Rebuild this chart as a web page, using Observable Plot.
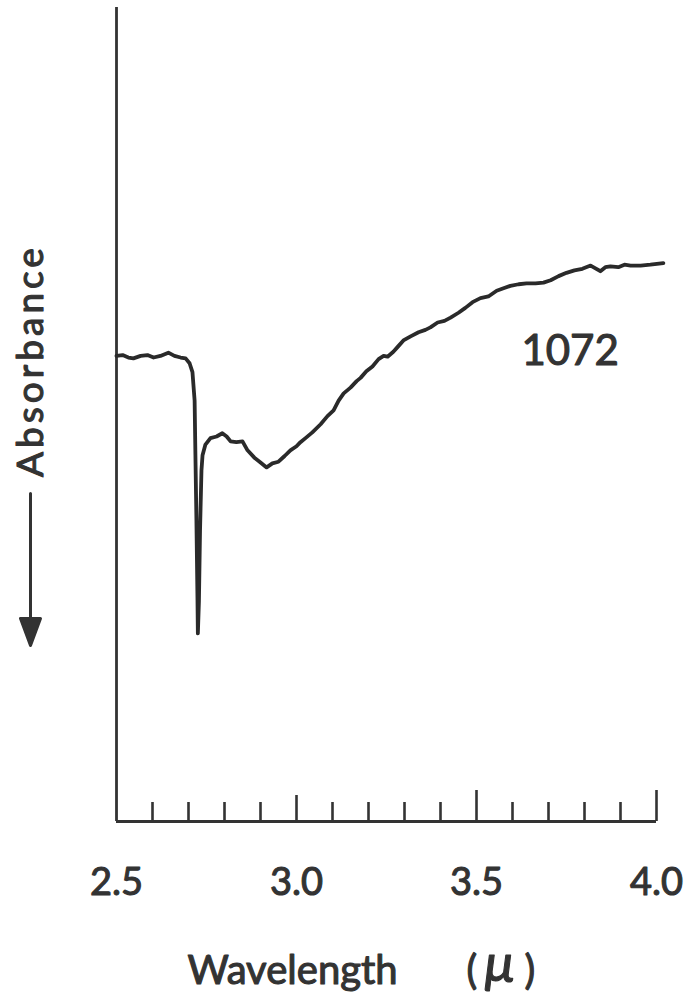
<!DOCTYPE html>
<html>
<head>
<meta charset="utf-8">
<script src="https://cdn.jsdelivr.net/npm/d3@7"></script>
<script src="https://cdn.jsdelivr.net/npm/@observablehq/plot@0.6"></script>
<style>
  body { margin: 0; background: #fff; }
  #chart svg { display: block; }
</style>
</head>
<body>
<div id="chart"></div>
<script>
// Infrared spectrum of sample 1072: wavelength (microns) vs. relative absorbance (arbitrary units)
const wavelength = [
  2.500, 2.517, 2.533, 2.547, 2.567, 2.586, 2.603, 2.622, 2.644, 2.661,
  2.678, 2.692, 2.703, 2.711, 2.717, 2.719, 2.722, 2.725, 2.726, 2.729,
  2.732, 2.736, 2.739, 2.747, 2.761, 2.778, 2.794, 2.806, 2.817, 2.833,
  2.850, 2.864, 2.883, 2.900, 2.917, 2.933, 2.950, 2.967, 2.983, 3.000,
  3.011, 3.025, 3.044, 3.067, 3.086, 3.103, 3.117, 3.131, 3.150, 3.167,
  3.178, 3.194, 3.211, 3.228, 3.242, 3.253, 3.269, 3.283, 3.297, 3.317,
  3.339, 3.358, 3.372, 3.392, 3.411, 3.428, 3.450, 3.469, 3.489, 3.511,
  3.533, 3.556, 3.575, 3.594, 3.617, 3.639, 3.664, 3.686, 3.706, 3.728,
  3.750, 3.772, 3.794, 3.817, 3.833, 3.844, 3.858, 3.872, 3.894, 3.911,
  3.928, 3.956, 3.983, 4.019
];
const absorbance = [
  57.2, 57.3, 57.0, 56.9, 57.2, 57.3, 57.0, 57.2, 57.6, 57.2,
  57.0, 56.9, 56.3, 55.2, 51.7, 45.6, 37.0, 27.1, 23.1, 27.1,
  35.7, 43.1, 45.0, 46.3, 47.1, 47.3, 47.7, 47.3, 46.7, 46.6,
  46.7, 45.6, 44.7, 44.1, 43.5, 44.0, 44.2, 44.9, 45.6, 46.1,
  46.6, 47.1, 47.8, 48.8, 49.8, 50.5, 51.7, 52.6, 53.3, 54.1,
  54.5, 55.3, 55.9, 56.8, 57.2, 57.1, 57.7, 58.4, 59.1, 59.6,
  60.1, 60.4, 60.7, 61.3, 61.5, 61.9, 62.5, 63.1, 63.8, 64.3,
  64.5, 65.2, 65.5, 65.8, 66.0, 66.1, 66.1, 66.2, 66.5, 67.0,
  67.4, 67.7, 67.9, 68.3, 67.9, 67.6, 68.1, 68.2, 68.1, 68.4,
  68.3, 68.3, 68.4, 68.6
];

// Axis ticks (tenths of a micron); the half-micron ticks are drawn taller
const tickLabels = [2.5, 3.0, 3.5, 4.0];
const minorTicks = [2.6, 2.7, 2.8, 2.9, 3.1, 3.2, 3.3, 3.4, 3.6, 3.7, 3.8, 3.9];
const midTicks = [3.0];
const longTicks = [3.5, 4.0];

// Sample label placed beside the curve
const sampleName = ["1072"];
const sampleAt = {x: 3.76, y: 57.7};

const spectrum = wavelength.map((w, i) => ({wavelength: w, absorbance: absorbance[i]}));

const W = 689, H = 1005;
const mL = 116, mR = 33, mT = 7, mB = 184;
const innerH = H - mT - mB;
const ink = "#333";
const font = "Lato, 'Noto Sans', sans-serif";
// a thin same-colour outline gives the lettering a heavier stroke
const heavy = {fill: ink, stroke: ink, strokeWidth: 1.1};

// Downward arrow with a filled head, for the y-axis label
const arrowShape = {
  draw(context, l) {
    const h = 27, w = 10;
    context.moveTo(0, 0);
    context.lineTo(0, -l + h);
    context.moveTo(-w, -l + h);
    context.lineTo(0, -l);
    context.lineTo(w, -l + h);
    context.closePath();
  }
};

const chart = Plot.plot({
  width: W,
  height: H,
  marginLeft: mL,
  marginRight: mR,
  marginTop: mT,
  marginBottom: mB,
  style: {fontFamily: font, color: ink, background: "#fff", overflow: "visible"},
  x: {domain: [2.5, 4.0]},
  y: {domain: [0, 100], axis: null},
  marks: [
    // axis lines
    Plot.ruleX([2.5], {stroke: ink, strokeWidth: 2.8}),
    Plot.ruleY([0], {stroke: ink, strokeWidth: 2.8}),
    // inward tick marks
    Plot.tickX(minorTicks, {x: d => d, stroke: ink, strokeWidth: 2.6, insetTop: innerH - 19}),
    Plot.tickX(midTicks, {x: d => d, stroke: ink, strokeWidth: 2.6, insetTop: innerH - 26}),
    Plot.tickX(longTicks, {x: d => d, stroke: ink, strokeWidth: 2.6, insetTop: innerH - 31}),
    // tick labels
    Plot.axisX({ticks: tickLabels, tickSize: 0, tickPadding: 47, fontSize: 38, tickFormat: d3.format(".1f"), label: null,
      textStroke: ink, textStrokeWidth: 1.1, textStrokeOpacity: 1}),
    // spectrum
    Plot.line(spectrum, {x: "wavelength", y: "absorbance", stroke: "#2a2a2a", strokeWidth: 3.8, strokeLinejoin: "round", strokeLinecap: "round"}),
    // sample label
    Plot.text(sampleName, {x: () => sampleAt.x, y: () => sampleAt.y, text: d => d, fontSize: 42, lineAnchor: "middle", ...heavy}),
    // x-axis title
    Plot.text(["Wavelength"], {frameAnchor: "bottom-left", dx: 71, dy: 162, textAnchor: "start", lineAnchor: "bottom", fontSize: 40, ...heavy}),
    Plot.text(["("], {frameAnchor: "bottom-left", dx: 350, dy: 162, textAnchor: "start", lineAnchor: "bottom", fontSize: 40, ...heavy}),
    Plot.text(["\u03bc"], {frameAnchor: "bottom-left", dx: 368, dy: 160, textAnchor: "start", lineAnchor: "bottom", fontSize: 54, fontStyle: "italic", ...heavy}),
    Plot.text([")"], {frameAnchor: "bottom-left", dx: 408, dy: 162, textAnchor: "start", lineAnchor: "bottom", fontSize: 40, ...heavy}),
    // y-axis title with arrow
    Plot.text(["Absorbance"], {frameAnchor: "left", textAnchor: "middle", dx: -85, dy: -54, rotate: -90, fontSize: 37, ...heavy}),
    Plot.vector([0], {frameAnchor: "left", dx: -86, dy: 79, length: 152, rotate: 180, anchor: "start", shape: arrowShape, stroke: ink, fill: ink, strokeWidth: 3})
  ]
});

// widen the letter spacing of the rotated axis title
d3.select(chart).selectAll("text")
  .filter(function() { return this.textContent === "Absorbance"; })
  .attr("letter-spacing", 4)
  .style("letter-spacing", "4px");
document.getElementById("chart").appendChild(chart);
</script>
</body>
</html>
